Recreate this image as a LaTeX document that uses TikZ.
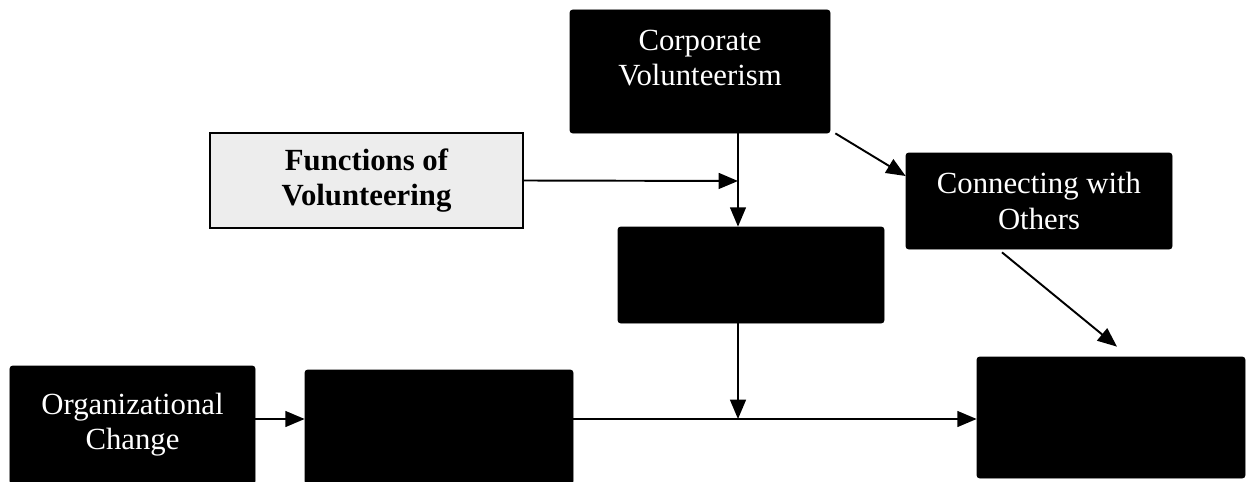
\documentclass[tikz,border=0pt]{standalone}
\usepackage{fontspec}
\setmainfont{Liberation Serif}
\usetikzlibrary{
  arrows.meta,
  positioning,
  calc
}

\begin{document}
\begin{tikzpicture}[
  blackbox/.style={
    rectangle, rounded corners=1.5pt,
    draw=black, fill=black, text=white,
    inner sep=0pt,
    font=\fontsize{17.5}{20}\selectfont, align=center
  },
  funcbox/.style={
    rectangle, draw=black, line width=1.2pt, fill=black!7,
    inner sep=0pt, minimum width=6.26cm, minimum height=1.9cm,
    font=\bfseries\fontsize{17.5}{20}\selectfont, align=center
  },
  conn/.style={
    -{Triangle[length=11pt,width=9pt]}, line width=1.1pt, black
  }
]
  \useasboundingbox (0,0) rectangle (24.96,-9.64);

  % Upper part
  \node[blackbox, minimum width=5.2cm, minimum height=2.46cm,
    text depth=0.55cm] (corp)
    at (14.0,-1.43) {Corporate\\Volunteerism};
  \node[funcbox] (func) at (7.33,-3.61) {Functions of\\Volunteering};
  \node[blackbox, minimum width=5.32cm, minimum height=1.92cm] (mid)
    at (15.02,-5.5) {};
  \node[blackbox, minimum width=5.32cm, minimum height=1.92cm] (conn)
    at (20.78,-4.02) {Connecting with\\Others};

  % Lower row
  \node[blackbox, minimum width=4.9cm, minimum height=2.36cm] (org)
    at (2.65,-8.5) {Organizational\\Change};
  \node[blackbox, minimum width=5.36cm, minimum height=2.28cm] (lowmid)
    at (8.78,-8.54) {};
  \node[blackbox, minimum width=5.36cm, minimum height=2.42cm] (right)
    at (22.22,-8.35) {};

  % Joints on the lines
  \coordinate (join) at (14.76,-3.62);
  \coordinate (merge) at (14.76,-8.38);

  % Connections
  \draw[conn] (func.east) -- (join);
  \draw[conn] (corp.south -| join) -- (mid.north -| join);
  \draw[conn] (mid.south -| merge) -- (merge);
  \draw[conn] (org.east |- merge) -- (lowmid.west |- merge);
  \draw[conn] (lowmid.east |- merge) -- (right.west |- merge);
  \draw[conn] ([xshift=0.1cm]corp.south east) -- ([yshift=0.5cm]conn.west);
  \draw[conn] ([xshift=-0.74cm,yshift=-0.06cm]conn.south)
    -- ([xshift=0.12cm,yshift=0.2cm]right.north);
\end{tikzpicture}
\end{document}
